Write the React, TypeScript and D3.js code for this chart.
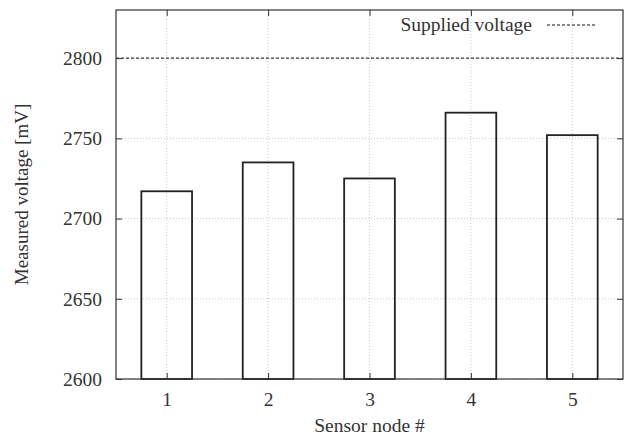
import React, { useEffect, useRef } from 'react';
import * as d3 from 'd3';

const nodes = [1, 2, 3, 4, 5];
const measured = [2717, 2735, 2725, 2766, 2752];
const supplied = 2800;
const yTicks = [2600, 2650, 2700, 2750, 2800];

const W = 631;
const H = 438;
const margin = { top: 10, right: 8, bottom: 59, left: 116 };

const App = () => {
  const svgRef = useRef<SVGSVGElement>(null);

  useEffect(() => {
    const svg = d3.select(svgRef.current);
    svg.selectAll('*').remove();

    const iw = W - margin.left - margin.right;
    const ih = H - margin.top - margin.bottom;
    const font = 'Liberation Serif, Times New Roman, Times, serif';
    const frame = '#333';
    const fs = 19.5;

    const x = d3.scaleLinear().domain([0.5, 5.5]).range([0, iw]);
    const y = d3.scaleLinear().domain([2600, 2830]).range([ih, 0]);

    const g = svg.append('g').attr('transform', `translate(${margin.left},${margin.top})`);

    // grid
    g.selectAll('.gy')
      .data(yTicks)
      .join('line')
      .attr('x1', 0)
      .attr('x2', iw)
      .attr('y1', (d) => y(d))
      .attr('y2', (d) => y(d))
      .attr('stroke', '#bbb')
      .attr('stroke-width', 0.8)
      .attr('stroke-dasharray', '1,2');
    g.selectAll('.gx')
      .data(nodes)
      .join('line')
      .attr('x1', (d) => x(d))
      .attr('x2', (d) => x(d))
      .attr('y1', 0)
      .attr('y2', ih)
      .attr('stroke', '#bbb')
      .attr('stroke-width', 0.8)
      .attr('stroke-dasharray', '1,2');

    // bars
    const bw = x(1.25) - x(0.75);
    g.selectAll('.bar')
      .data(measured)
      .join('rect')
      .attr('x', (d, i) => x(nodes[i]) - bw / 2)
      .attr('y', (d) => y(d))
      .attr('width', bw)
      .attr('height', (d) => ih - y(d))
      .attr('fill', 'none')
      .attr('stroke', '#222')
      .attr('stroke-width', 1.8);

    // supplied voltage line
    g.append('line')
      .attr('x1', 0)
      .attr('x2', iw)
      .attr('y1', y(supplied))
      .attr('y2', y(supplied))
      .attr('stroke', '#111')
      .attr('stroke-width', 1)
      .attr('stroke-dasharray', '3,2');

    // frame
    g.append('rect')
      .attr('width', iw)
      .attr('height', ih)
      .attr('fill', 'none')
      .attr('stroke', frame)
      .attr('stroke-width', 1.2);

    // inward ticks
    const tl = 6;
    const axL = d3.axisLeft(y).tickValues(yTicks).tickSize(-tl).tickPadding(14).tickFormat(d3.format('d'));
    const axR = d3.axisRight(y).tickValues(yTicks).tickSize(-tl).tickFormat(() => '');
    const axB = d3.axisBottom(x).tickValues(nodes).tickSize(-tl).tickPadding(13).tickFormat(d3.format('d'));
    const axT = d3.axisTop(x).tickValues(nodes).tickSize(-tl).tickFormat(() => '');

    const style = (sel) => {
      sel.attr('font-family', null).attr('font-size', null);
      sel.select('.domain').remove();
      sel.selectAll('line').attr('stroke', frame).attr('stroke-width', 1);
      sel.selectAll('text').style('font-family', font).style('font-size', `${fs}px`).attr('fill', '#333');
    };
    g.append('g').call(axL).call(style);
    g.append('g').attr('transform', `translate(${iw},0)`).call(axR).call(style);
    g.append('g').attr('transform', `translate(0,${ih})`).call(axB).call(style);
    g.append('g').call(axT).call(style);

    const label = (sel, size) =>
      sel.style('font-family', font).style('font-size', `${size}px`).attr('fill', '#333');

    // legend
    g.append('text')
      .attr('x', 416)
      .attr('y', 21)
      .attr('text-anchor', 'end')
      .call(label, fs)
      .text('Supplied voltage');
    g.append('line')
      .attr('x1', 431)
      .attr('x2', 481)
      .attr('y1', 15)
      .attr('y2', 15)
      .attr('stroke', '#111')
      .attr('stroke-dasharray', '3,2');

    // axis labels
    svg.append('text')
      .attr('x', margin.left + iw / 2)
      .attr('y', 432)
      .attr('text-anchor', 'middle')
      .call(label, fs)
      .text('Sensor node #');
    svg.append('text')
      .attr('transform', `translate(28,${margin.top + ih / 2}) rotate(-90)`)
      .attr('text-anchor', 'middle')
      .call(label, 19)
      .text('Measured voltage [mV]');
  }, []);

  return (
    <svg ref={svgRef} width={W} height={H} style={{ position: 'absolute', left: 0, top: 0, background: 'white' }} />
  );
};

export default App;
